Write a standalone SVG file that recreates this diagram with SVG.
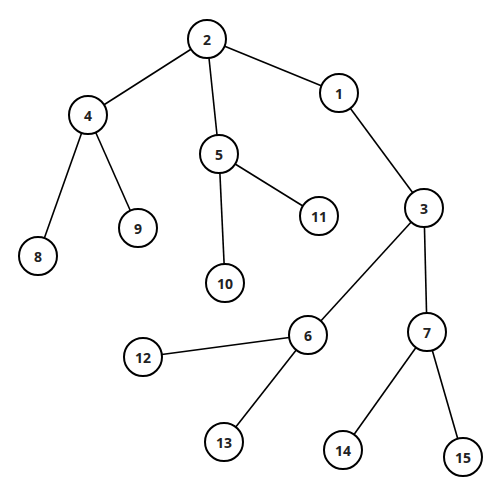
<svg xmlns="http://www.w3.org/2000/svg" width="503" height="503" viewBox="0 0 503 503">
<style>
.n circle{fill:#fff;stroke:#000;stroke-width:2}
.n text{font-family:"Open Sans","DejaVu Sans",sans-serif;font-weight:bold;font-size:14px;text-anchor:middle;dominant-baseline:central;fill:#222}
.e line{stroke:#000;stroke-width:1.6}
</style>
<rect width="503" height="503" fill="#fff"/>
<g id="edges" class="e">
<line x1="207" y1="39" x2="339" y2="93"/>
<line x1="207" y1="39" x2="88" y2="115"/>
<line x1="207" y1="39" x2="219" y2="154"/>
<line x1="88" y1="115" x2="38" y2="256"/>
<line x1="88" y1="115" x2="138" y2="228"/>
<line x1="219" y1="154" x2="319" y2="216"/>
<line x1="219" y1="154" x2="225" y2="283"/>
<line x1="339" y1="93" x2="424" y2="208"/>
<line x1="424" y1="208" x2="308" y2="335"/>
<line x1="424" y1="208" x2="427" y2="332"/>
<line x1="308" y1="335" x2="143" y2="357"/>
<line x1="308" y1="335" x2="224" y2="442"/>
<line x1="427" y1="332" x2="343" y2="450"/>
<line x1="427" y1="332" x2="463" y2="457"/>
</g>
<g id="n2" class="n"><circle cx="207" cy="39" r="19"/><text x="207" y="39">2</text></g>
<g id="n1" class="n"><circle cx="339" cy="93" r="19"/><text x="339" y="93">1</text></g>
<g id="n4" class="n"><circle cx="88" cy="115" r="19"/><text x="88" y="115">4</text></g>
<g id="n5" class="n"><circle cx="219" cy="154" r="19"/><text x="219" y="154">5</text></g>
<g id="n3" class="n"><circle cx="424" cy="208" r="19"/><text x="424" y="208">3</text></g>
<g id="n11" class="n"><circle cx="319" cy="216" r="19"/><text x="319" y="216">11</text></g>
<g id="n9" class="n"><circle cx="138" cy="228" r="19"/><text x="138" y="228">9</text></g>
<g id="n8" class="n"><circle cx="38" cy="256" r="19"/><text x="38" y="256">8</text></g>
<g id="n10" class="n"><circle cx="225" cy="283" r="19"/><text x="225" y="283">10</text></g>
<g id="n6" class="n"><circle cx="308" cy="335" r="19"/><text x="308" y="335">6</text></g>
<g id="n7" class="n"><circle cx="427" cy="332" r="19"/><text x="427" y="332">7</text></g>
<g id="n12" class="n"><circle cx="143" cy="357" r="19"/><text x="143" y="357">12</text></g>
<g id="n13" class="n"><circle cx="224" cy="442" r="19"/><text x="224" y="442">13</text></g>
<g id="n14" class="n"><circle cx="343" cy="450" r="19"/><text x="343" y="450">14</text></g>
<g id="n15" class="n"><circle cx="463" cy="457" r="19"/><text x="463" y="457">15</text></g>
</svg>
